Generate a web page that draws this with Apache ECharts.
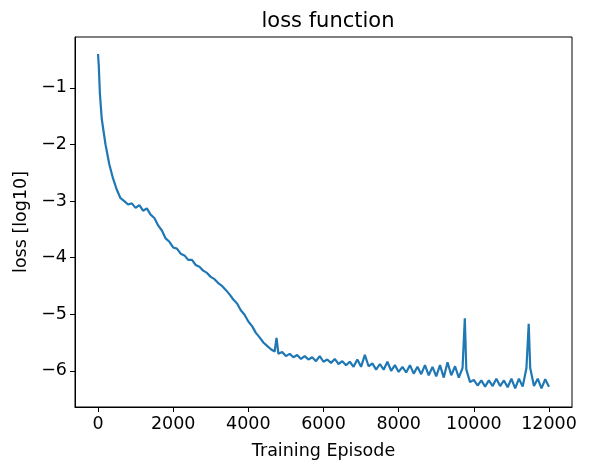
<!DOCTYPE html>
<html><head><meta charset="utf-8">
<script src="https://cdn.jsdelivr.net/npm/echarts@6/dist/echarts.min.js"></script>
<style>html,body{margin:0;padding:0;background:#fff}#c{width:592px;height:472px}</style>
</head><body><div id="c"></div>
<script>
const episodes = [0,20,50,100,200,300,400,500,600,700,800,900,1000,1100,1200,1300,1400,1500,1600,1700,1800,1900,2000,2100,2200,2300,2400,2500,2600,2700,2800,2900,3000,3100,3200,3300,3400,3500,3600,3700,3800,3900,4000,4100,4200,4300,4400,4500,4600,4700,4750,4800,4900,5000,5100,5200,5300,5400,5500,5600,5700,5800,5900,6000,6100,6200,6300,6400,6500,6600,6700,6800,6900,7000,7100,7200,7300,7400,7500,7600,7700,7800,7900,8000,8100,8200,8300,8400,8500,8600,8700,8800,8900,9000,9100,9200,9300,9400,9500,9600,9700,9760,9800,9900,10000,10100,10200,10300,10400,10500,10600,10700,10800,10900,11000,11100,11200,11300,11400,11460,11500,11600,11700,11800,11900,12000];
const losses = [-0.4,-0.6,-1.1,-1.55,-2.0,-2.35,-2.6,-2.8,-2.95,-3.0,-3.06,-3.04,-3.12,-3.07,-3.17,-3.13,-3.24,-3.3,-3.43,-3.52,-3.66,-3.72,-3.82,-3.84,-3.93,-3.96,-4.04,-4.04,-4.13,-4.16,-4.23,-4.27,-4.34,-4.38,-4.45,-4.5,-4.57,-4.65,-4.74,-4.81,-4.93,-5.01,-5.13,-5.21,-5.33,-5.41,-5.5,-5.56,-5.62,-5.66,-5.42,-5.7,-5.67,-5.74,-5.7,-5.76,-5.72,-5.79,-5.74,-5.8,-5.76,-5.83,-5.74,-5.84,-5.8,-5.86,-5.79,-5.88,-5.83,-5.9,-5.84,-5.93,-5.8,-5.93,-5.72,-5.92,-5.87,-5.98,-5.88,-5.98,-5.84,-6.0,-5.9,-6.02,-5.93,-6.03,-5.9,-6.05,-5.93,-6.06,-5.9,-6.08,-5.93,-6.1,-5.9,-6.12,-5.85,-6.08,-5.92,-6.12,-5.95,-5.07,-5.98,-6.2,-6.16,-6.26,-6.17,-6.28,-6.17,-6.27,-6.14,-6.27,-6.17,-6.29,-6.14,-6.31,-6.14,-6.28,-5.95,-5.17,-5.95,-6.27,-6.14,-6.31,-6.15,-6.28];
const xTicks = [0,2000,4000,6000,8000,10000,12000];
const yTicks = [-6,-5,-4,-3,-2,-1];
const font = 'DejaVu Sans';
const fmt = v => String(v).replace('-', '\u2212');
const chart = echarts.init(document.getElementById('c'));
chart.setOption({
  animation:false,
  title:{text:'loss function',left:323,top:6,textAlign:'center',textStyle:{fontFamily:font,fontSize:21,fontWeight:'normal',color:'#000'}},
  grid:{left:75,right:20,top:37,bottom:65,show:true,borderColor:'#000',borderWidth:1},
  xAxis:{type:'value',min:-612,max:12612,
    name:'Training Episode',nameLocation:'middle',nameGap:35,nameTextStyle:{fontFamily:font,fontSize:17.5,color:'#000'},
    axisLine:{onZero:false,lineStyle:{color:'#000'}},splitLine:{show:false},
    axisTick:{customValues:xTicks,length:5,lineStyle:{color:'#000'}},
    axisLabel:{customValues:xTicks,fontFamily:font,fontSize:17.5,color:'#000',margin:8,formatter:fmt}},
  yAxis:{type:'value',min:-6.64,max:-0.1,
    name:'loss [log10]',nameLocation:'middle',nameGap:45,nameTextStyle:{fontFamily:font,fontSize:17.5,color:'#000'},
    axisLine:{show:true,onZero:false,lineStyle:{color:'#000'}},splitLine:{show:false},
    axisTick:{show:true,customValues:yTicks,length:5,lineStyle:{color:'#000'}},
    axisLabel:{customValues:yTicks,fontFamily:font,fontSize:17.5,color:'#000',margin:8,formatter:fmt}},
  series:[{type:'line',data:episodes.map((x,i)=>[x,losses[i]]),showSymbol:false,
    lineStyle:{color:'#1f77b4',width:2.2},itemStyle:{color:'#1f77b4'}}]
});
</script></body></html>
